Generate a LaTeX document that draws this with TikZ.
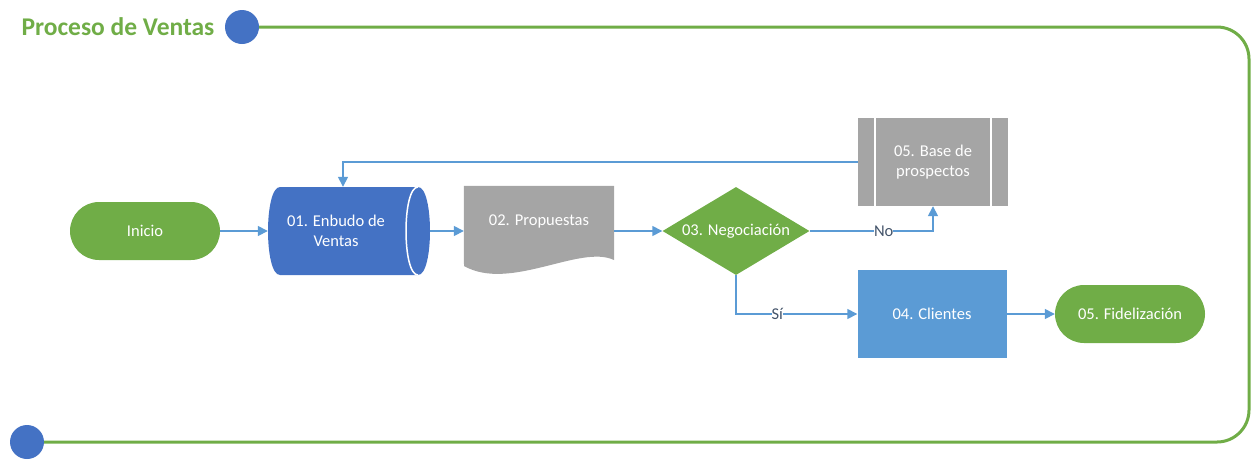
\documentclass[tikz,border=0pt]{standalone}
\usepackage{fontspec}
\setmainfont{Carlito}
\usepackage{tikz}
\usetikzlibrary{shapes.geometric,arrows.meta}
\definecolor{pvGreen}{HTML}{70AD47}
\definecolor{pvBlue}{HTML}{4472C4}
\definecolor{pvSky}{HTML}{5B9BD5}
\definecolor{pvGray}{HTML}{A5A5A5}
\definecolor{pvSlate}{HTML}{44546A}

\begin{document}
\begin{tikzpicture}[x=1pt, y=-1pt,
    txt/.style={text=white, font=\fontsize{16.5}{19.5}\selectfont, align=center, inner sep=0pt},
    pill/.style={txt, fill=pvGreen, rounded corners=29pt, minimum width=150pt, minimum height=58pt},
    dot/.style={circle, fill=pvBlue, minimum size=34pt, inner sep=0pt},
    flow/.style={pvSky, line width=1.5pt, -{Triangle[length=10pt, width=10pt]}},
    tag/.style={fill=white, text=pvSlate, font=\fontsize{16.5}{19.5}\selectfont, inner sep=0pt}]
  \useasboundingbox (0,0) rectangle (1253,459);
  \node[font=\fontsize{25.5}{30}\selectfont\bfseries, text=pvGreen, anchor=west] (title) at (18,27) {Proceso de Ventas};
  \node[dot] (topdot) at (242,27) {};
  \node[dot] (botdot) at (27,442) {};
  \draw[pvGreen, line width=3pt, rounded corners=32pt] (topdot.east) -- (1249,27) -- (1249,442) -- (botdot.east);
  \node[pill] (inicio) at (145,231) {Inicio};
  \node[minimum width=162pt, minimum height=88pt, inner sep=0pt] (enbudo) at (349,231) {};
  \fill[pvBlue] (280,187) -- (418,187) .. controls (434,187) and (434,275) .. (418,275)
    -- (280,275) .. controls (264,275) and (264,187) .. (280,187) -- cycle;
  \draw[white, line width=1.5pt] (418,187) .. controls (402,187) and (402,275) .. (418,275);
  \node[txt] (enbudotxt) at (336,231) {01. Enbudo de\\Ventas};
  \node[txt, minimum width=150pt, minimum height=70pt] (prop) at (539,221) {};
  \fill[pvGray] (prop.north west) -- (prop.north east) -- (614,260) .. controls (580,244) and (510,292) .. (464,266) -- cycle;
  \node[txt] (proptxt) at (prop) {02. Propuestas};
  \node[txt, diamond, fill=pvGreen, minimum width=147pt, minimum height=88pt, aspect=1.67] (nego) at (736,231) {03. Negociación};
  \node[txt, fill=pvGray, minimum width=150pt, minimum height=88pt] (base) at (933,162) {05. Base de\\prospectos};
  \draw[white, line width=1.5pt] ([xshift=17pt]base.north west) -- ([xshift=17pt]base.south west);
  \draw[white, line width=1.5pt] ([xshift=-17pt]base.north east) -- ([xshift=-17pt]base.south east);
  \node[txt, fill=pvSky, minimum width=149pt, minimum height=88pt] (client) at (932,314) {04. Clientes};
  \node[pill] (fidel) at (1130,314) {05. Fidelización};
  \draw[flow] (inicio) -- (enbudo);
  \draw[flow] (enbudo.east) -- (enbudo.east -| prop.west);
  \draw[flow] (prop.east |- nego) -- (nego.west);
  \draw[flow] (nego.east) -| node[tag, pos=0.3] {No} (base.south);
  \draw[flow] (nego.south) |- node[tag, pos=0.67] {Sí} (client.west);
  \draw[flow] (client) -- (fidel);
  \draw[flow] (base.west) -| ([xshift=-6pt]enbudo.north);
\end{tikzpicture}
\end{document}
